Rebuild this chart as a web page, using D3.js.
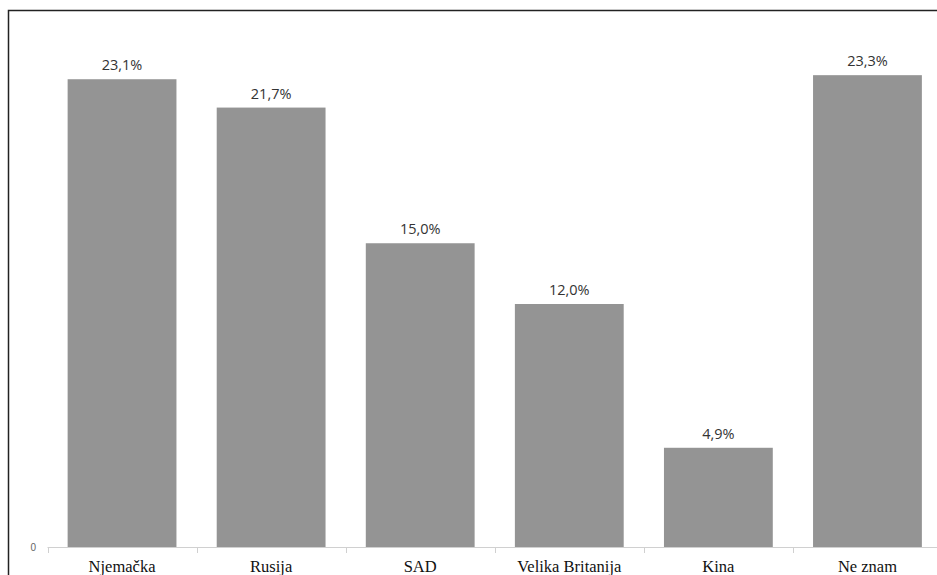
<!DOCTYPE html>
<html>
<head>
<meta charset="utf-8">
<script src="https://cdn.jsdelivr.net/npm/d3@7"></script>
<style>
  body { margin: 0; background: #fff; }
</style>
</head>
<body>
<script>
var w = 937,
    h = 575;

var countries = ["Njemačka", "Rusija", "SAD", "Velika Britanija", "Kina", "Ne znam"];
var shares = [23.1, 21.7, 15.0, 12.0, 4.9, 23.3];
var yTicks = [0];

var svg = d3.select("body").append("svg")
  .attr("width", w)
  .attr("height", h);

// frame round the chart area (only top and left show in the crop)
svg.append("path")
  .attr("d", "M8.5," + h + "V10.5H" + w)
  .attr("fill", "none")
  .attr("stroke", "#222")
  .attr("stroke-width", 1.5);

var x = d3.scaleBand()
  .domain(countries)
  .range([47.5, 942])
  .paddingInner(0.27)
  .paddingOuter(0.135);

var y = d3.scaleLinear()
  .domain([0, 25])
  .range([547, 40.75]);

var step = x.step();

// baseline with ticks at category boundaries
var axis = svg.append("g");
axis.append("line")
  .attr("x1", 47.5).attr("x2", 942)
  .attr("y1", y(0) + 0.5).attr("y2", y(0) + 0.5)
  .attr("stroke", "#d0d0d0");
axis.selectAll("line.tick").data(countries)
  .enter().append("line")
  .attr("class", "tick")
  .attr("x1", function(d, i) { return Math.round(47.5 + i * step) + 0.5; })
  .attr("x2", function(d, i) { return Math.round(47.5 + i * step) + 0.5; })
  .attr("y1", y(0)).attr("y2", y(0) + 6)
  .attr("stroke", "#d0d0d0");

svg.selectAll("text.ytick").data(yTicks)
  .enter().append("text")
  .attr("class", "ytick")
  .attr("x", 36)
  .attr("y", function(d) { return y(d) + 4; })
  .attr("text-anchor", "end")
  .attr("font-family", "Liberation Sans, sans-serif")
  .attr("font-size", "10px")
  .attr("fill", "#666")
  .text(function(d) { return d; });

svg.selectAll("rect.bar").data(shares)
  .enter().append("rect")
  .attr("class", "bar")
  .attr("x", function(d, i) { return x(countries[i]); })
  .attr("y", function(d) { return y(d); })
  .attr("width", x.bandwidth())
  .attr("height", function(d) { return y(0) - y(d); })
  .attr("fill", "#949494");

svg.selectAll("text.val").data(shares)
  .enter().append("text")
  .attr("class", "val")
  .attr("x", function(d, i) { return x(countries[i]) + x.bandwidth() / 2; })
  .attr("y", function(d) { return y(d) - 9; })
  .attr("text-anchor", "middle")
  .attr("font-family", "Open Sans, sans-serif")
  .attr("font-size", "14.5px")
  .attr("fill", "#333")
  .text(function(d) { return d.toFixed(1).replace(".", ",") + "%"; });

svg.selectAll("text.cat").data(countries)
  .enter().append("text")
  .attr("class", "cat")
  .attr("x", function(d) { return x(d) + x.bandwidth() / 2; })
  .attr("y", 572)
  .attr("text-anchor", "middle")
  .attr("font-family", "Liberation Serif, serif")
  .attr("font-size", "16.5px")
  .attr("fill", "#111")
  .text(function(d) { return d; });
</script>
</body>
</html>
